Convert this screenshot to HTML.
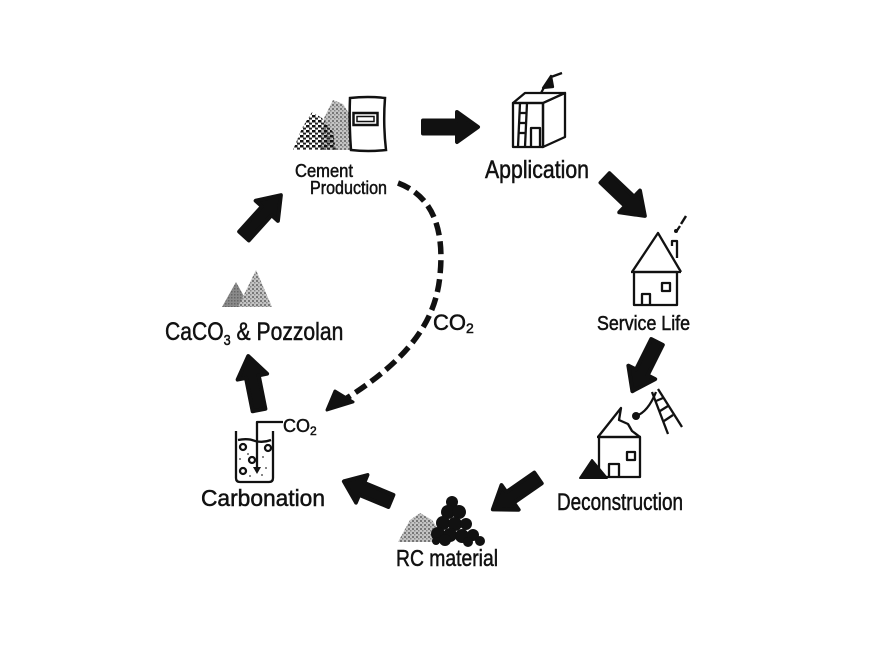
<!DOCTYPE html>
<html><head><meta charset="utf-8"><style>
html,body{margin:0;padding:0;background:#fff;}
svg{display:block;}
text{font-family:"Liberation Sans",sans-serif;fill:#111;stroke:#111;stroke-width:0.5;}
</style></head><body>
<svg width="870" height="653" viewBox="0 0 870 653" xmlns="http://www.w3.org/2000/svg">
<defs>
<pattern id="pb" width="6" height="5" patternUnits="userSpaceOnUse">
<rect x="0" y="0" width="3.5" height="2.5" fill="#111"/><rect x="3" y="2.6" width="3" height="2" fill="#222"/>
</pattern>
<pattern id="pg" width="4" height="4" patternUnits="userSpaceOnUse">
<rect width="4" height="4" fill="#c4c4c4"/><rect x="0" y="0" width="2" height="2" fill="#777"/><rect x="2" y="2" width="1.5" height="1.5" fill="#888"/>
</pattern>
<pattern id="pd" width="3" height="3" patternUnits="userSpaceOnUse">
<rect width="3" height="3" fill="#8a8a8a"/><rect x="0" y="0" width="1.5" height="1.5" fill="#666"/>
</pattern>
<path id="arr" d="M0,-6.5 L34,-6.5 L34,-15 L55,0 L34,15 L34,6.5 L0,6.5 Z"/>
</defs>
<rect width="870" height="653" fill="#fff"/>

<!-- Arrows -->
<g fill="#111" stroke="#111" stroke-width="4" stroke-linejoin="round">
<use href="#arr" transform="translate(423,127) rotate(0)"/>
<use href="#arr" transform="translate(605,178) rotate(43.6)"/>
<use href="#arr" transform="translate(657,342) rotate(116.6)"/>
<use href="#arr" transform="translate(538,478) rotate(145.2)"/>
<use href="#arr" transform="translate(391,501) rotate(202.6) scale(0.93,1)"/>
<use href="#arr" transform="translate(259,410) rotate(-101.3)"/>
<use href="#arr" transform="translate(244,236) rotate(-47.9)"/>
</g>

<!-- Dashed CO2 curve -->
<path d="M398,183 C430,195 445,225 440,275 C436,320 410,358 347,398" fill="none" stroke="#111" stroke-width="5.5" stroke-dasharray="13,6"/>
<polygon points="327,410 335,391 353,402" fill="#111" stroke="#111" stroke-width="3" stroke-linejoin="round"/>

<!-- Cement icon -->
<polygon points="320,150 324,118 333,100 343,104 352,118 352,150" fill="url(#pg)"/>
<polygon points="293,150 302,128 312,112 322,118 333,132 336,150" fill="url(#pb)"/>
<path d="M350,98 Q368,96 385,98 Q383,124 386,150 Q368,152 351,150 Q349,124 350,98 Z" fill="#fff" stroke="#111" stroke-width="2.5"/>
<rect x="353.5" y="113" width="24" height="12" fill="none" stroke="#111" stroke-width="2.5"/>
<rect x="357" y="116.5" width="17" height="5" fill="none" stroke="#111" stroke-width="1.5"/>

<!-- Application icon -->
<g fill="none" stroke="#111" stroke-width="2.3" stroke-linejoin="round">
<polygon points="513,103 525,93 565,93 543,103"/>
<rect x="513" y="103" width="30" height="44"/>
<polygon points="543,103 565,93 565,137 543,147"/>
<line x1="520" y1="103" x2="518" y2="147"/>
<line x1="527" y1="103" x2="525" y2="147"/>
<line x1="519" y1="113" x2="527" y2="113"/>
<line x1="519" y1="123" x2="526" y2="123"/>
<line x1="518" y1="133" x2="525" y2="133"/>
<polyline points="531,147 531,128 540,128 540,147"/>
<line x1="541" y1="93" x2="546" y2="84"/>
<polygon points="543,88 551,76 553,87" fill="#111"/>
<line x1="551" y1="77" x2="562" y2="73"/>
</g>

<!-- Service Life house -->
<g fill="none" stroke="#111" stroke-width="2.3" stroke-linejoin="round">
<polyline points="632,272 658,233 681,272"/>
<line x1="631" y1="272" x2="681" y2="272"/>
<rect x="634" y="272" width="43" height="33"/>
<polyline points="642,305 642,294 650,294 650,305"/>
<rect x="662" y="283" width="8" height="8"/>
<polyline points="672,246 672,241 677,241 677,258"/>
<line x1="676" y1="232" x2="680" y2="226"/>
</g>
<circle cx="676" cy="231" r="2" fill="#111"/>
<line x1="681" y1="224" x2="686" y2="216" stroke="#111" stroke-width="2.5"/>

<!-- Deconstruction house -->
<g fill="none" stroke="#111" stroke-width="2.3" stroke-linejoin="round">
<polyline points="598,437 621,408 619,420 628,424 632,431 640,437"/>
<line x1="597" y1="437" x2="641" y2="437"/>
<rect x="599" y="437" width="41" height="40"/>
<polyline points="609,477 609,464 619,464 619,477"/>
<rect x="627" y="452" width="8" height="8"/>
<path d="M636,416 Q648,412 656,392"/>
<line x1="652" y1="392" x2="668" y2="434"/>
<line x1="658" y1="389" x2="682" y2="427"/>
<line x1="656" y1="401" x2="663" y2="398"/>
<line x1="660" y1="411" x2="668" y2="406"/>
<line x1="664" y1="421" x2="673" y2="415"/>
</g>
<circle cx="636" cy="416" r="4" fill="#111"/>
<polygon points="580,478 592,460 607,478" fill="#111" stroke="#111" stroke-width="2" stroke-linejoin="round"/>

<!-- RC material -->
<polygon points="398,542 410,520 420,513 432,520 440,532 440,542" fill="url(#pg)"/>
<g fill="#111">
<circle cx="452" cy="502" r="6"/><circle cx="448" cy="512" r="7"/><circle cx="459" cy="512" r="7"/>
<circle cx="443" cy="523" r="7"/><circle cx="455" cy="524" r="7"/><circle cx="466" cy="524" r="6"/>
<circle cx="438" cy="534" r="7"/><circle cx="450" cy="535" r="7"/><circle cx="462" cy="536" r="7"/>
<circle cx="473" cy="535" r="6"/><circle cx="480" cy="541" r="5"/><circle cx="445" cy="540" r="6"/>
<circle cx="468" cy="542" r="5"/><circle cx="436" cy="541" r="4"/>
</g>

<!-- Carbonation beaker -->
<g fill="none" stroke="#111" stroke-width="2.3" stroke-linejoin="round">
<path d="M236,431 L236,478 Q236,482 240,482 L269,482 Q273,482 273,478 L273,431"/>
<path d="M238,440 Q248,438 255,441 Q263,443 271,440"/>
<polyline points="283,422 257,422 257,468"/>
<circle cx="243" cy="447" r="3"/><circle cx="268" cy="448" r="3"/>
<circle cx="252" cy="460" r="3"/><circle cx="243" cy="471" r="3"/>
</g>
<polygon points="253,467 261,467 257,474" fill="#111"/>
<g fill="#333"><circle cx="248" cy="454" r="0.9"/><circle cx="263" cy="457" r="0.9"/><circle cx="266" cy="468" r="0.9"/><circle cx="250" cy="476" r="0.9"/><circle cx="262" cy="475" r="0.9"/><circle cx="240" cy="459" r="0.9"/></g>

<!-- CaCO3 piles -->
<polygon points="222,307 236,282 250,307" fill="url(#pd)"/>
<polygon points="238,307 256,270 272,307" fill="url(#pg)"/>

<!-- Labels -->
<text x="295" y="177" font-size="18" textLength="58" lengthAdjust="spacingAndGlyphs">Cement</text>
<text x="310" y="194" font-size="18" textLength="77" lengthAdjust="spacingAndGlyphs">Production</text>
<text x="485" y="178" font-size="25" textLength="104" lengthAdjust="spacingAndGlyphs">Application</text>
<text x="597" y="330" font-size="20" textLength="93" lengthAdjust="spacingAndGlyphs">Service Life</text>
<text x="557" y="510" font-size="24" textLength="126" lengthAdjust="spacingAndGlyphs">Deconstruction</text>
<text x="396" y="566" font-size="23" textLength="102" lengthAdjust="spacingAndGlyphs">RC material</text>
<text x="201" y="506" font-size="23" textLength="124" lengthAdjust="spacingAndGlyphs">Carbonation</text>
<text transform="translate(165,340) scale(0.845,1)" x="0" y="0" font-size="25">CaCO<tspan font-size="15" dy="5">3</tspan><tspan dy="-5"> &amp; Pozzolan</tspan></text>
<text x="433" y="330" font-size="22">CO<tspan font-size="14" dy="3">2</tspan></text>
<text x="283" y="432" font-size="18">CO<tspan font-size="12" dy="3">2</tspan></text>
</svg>
</body></html>
